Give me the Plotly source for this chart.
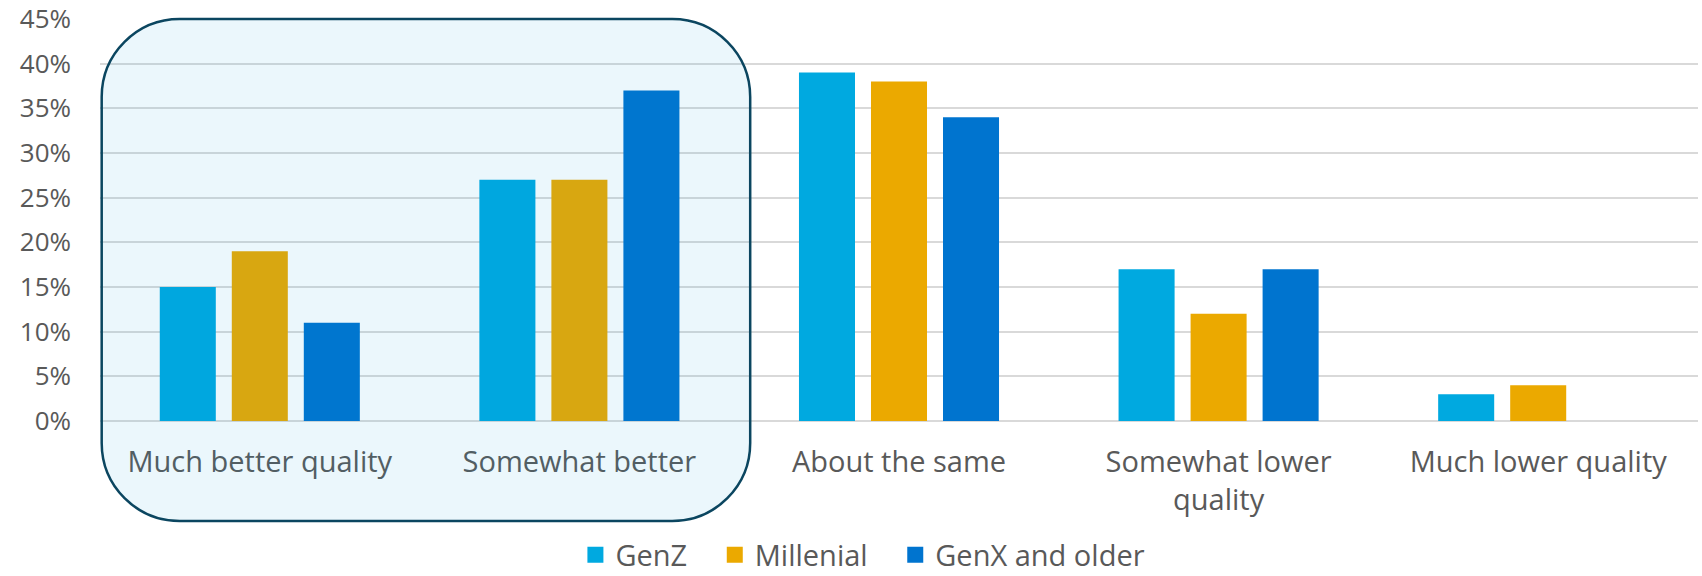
import plotly.graph_objects as go

# Survey responses by generation (share of respondents, %)
categories = [
    "Much better quality",
    "Somewhat better",
    "About the same",
    "Somewhat lower<br>quality",
    "Much lower quality",
]
genz = [15, 27, 39, 17, 3]
millenial = [19, 27, 38, 12, 4]
genx_older = [11, 37, 34, 17, 0]

y_ticks = list(range(0, 50, 5))
y_tick_labels = [f"{v}%" for v in y_ticks]

series = [
    ("GenZ", genz, "#00A9E0"),
    ("Millenial", millenial, "#EBA900"),
    ("GenX and older", genx_older, "#0074CF"),
]

FONT = "Open Sans"
TEXT_COLOR = "#595959"
GRID_COLOR = "#D9D9D9"
NBSP = "\u00a0"

W, H = 1702, 576
M_L, M_R, M_T, M_B = 100, 4, 19, 155
PLOT_W = W - M_L - M_R
PLOT_H = H - M_T - M_B
Y_MAX = 45

fig = go.Figure()
for name, values, color in series:
    fig.add_trace(go.Bar(
        name=name,
        x=categories,
        y=values,
        marker=dict(color=color, line=dict(width=0)),
        showlegend=False,
    ))

# Legend keys: larger square swatches than the default bar icon,
# with a little extra spacing after each entry except the last
for i, (name, values, color) in enumerate(series):
    pad = NBSP * 3 if i < len(series) - 1 else ""
    fig.add_trace(go.Scatter(
        name=name + pad,
        x=[None],
        y=[None],
        mode="markers",
        marker=dict(symbol="square", size=18, color=color),
        showlegend=True,
        hoverinfo="skip",
    ))


# Rounded highlight box around the two "better" categories, built in pixel
# space relative to the plot area and converted to paper coordinates.
def to_paper(px, py):
    return (px - M_L) / PLOT_W, (H - M_B - py) / PLOT_H


cat_w = PLOT_W / len(categories)
box_left = M_L + 1.7
box_right = M_L + 2 * cat_w + 11
box_top = M_T
box_bottom = H - M_B + 100
r = 78
k = 0.5523 * r

pts = [
    ("M", [(box_left + r, box_top)]),
    ("L", [(box_right - r, box_top)]),
    ("C", [(box_right - r + k, box_top), (box_right, box_top + r - k), (box_right, box_top + r)]),
    ("L", [(box_right, box_bottom - r)]),
    ("C", [(box_right, box_bottom - r + k), (box_right - r + k, box_bottom), (box_right - r, box_bottom)]),
    ("L", [(box_left + r, box_bottom)]),
    ("C", [(box_left + r - k, box_bottom), (box_left, box_bottom - r + k), (box_left, box_bottom - r)]),
    ("L", [(box_left, box_top + r)]),
    ("C", [(box_left, box_top + r - k), (box_left + r - k, box_top), (box_left + r, box_top)]),
]
path = ""
for cmd, coords in pts:
    path += cmd + " ".join(f"{to_paper(x, y)[0]:.5f},{to_paper(x, y)[1]:.5f}" for x, y in coords) + " "
path += "Z"

fig.add_shape(
    type="path",
    path=path,
    xref="paper",
    yref="paper",
    fillcolor="rgba(0,150,215,0.08)",
    line=dict(color="#0B4660", width=2.5),
    layer="above",
)

fig.update_layout(
    width=W,
    height=H,
    margin=dict(l=M_L, r=M_R, t=M_T, b=M_B, autoexpand=False),
    paper_bgcolor="white",
    plot_bgcolor="white",
    barmode="group",
    bargap=0.324,
    bargroupgap=0.222,
    font=dict(family=FONT, size=29, color=TEXT_COLOR),
    showlegend=True,
    legend=dict(
        orientation="h",
        xref="container",
        yref="container",
        x=0.507,
        xanchor="center",
        y=1 - 555 / H,
        yanchor="middle",
        font=dict(family=FONT, size=29, color=TEXT_COLOR),
        bgcolor="rgba(0,0,0,0)",
        itemclick=False,
        itemdoubleclick=False,
        tracegroupgap=0,
    ),
    xaxis=dict(
        type="category",
        showgrid=False,
        showline=False,
        zeroline=False,
        ticks="",
        tickfont=dict(family=FONT, size=29, color=TEXT_COLOR),
        ticklabelstandoff=21,
        fixedrange=True,
    ),
    yaxis=dict(
        range=[0, Y_MAX],
        tickvals=y_ticks,
        ticktext=y_tick_labels,
        showgrid=True,
        gridcolor=GRID_COLOR,
        gridwidth=1.5,
        zeroline=True,
        zerolinecolor=GRID_COLOR,
        zerolinewidth=1.5,
        showline=False,
        ticks="",
        tickfont=dict(family=FONT, size=26, color=TEXT_COLOR),
        ticklabelstandoff=28,
        ticklabeloverflow="allow",
        fixedrange=True,
    ),
)

fig.write_html("out.html", config={"displayModeBar": False})
